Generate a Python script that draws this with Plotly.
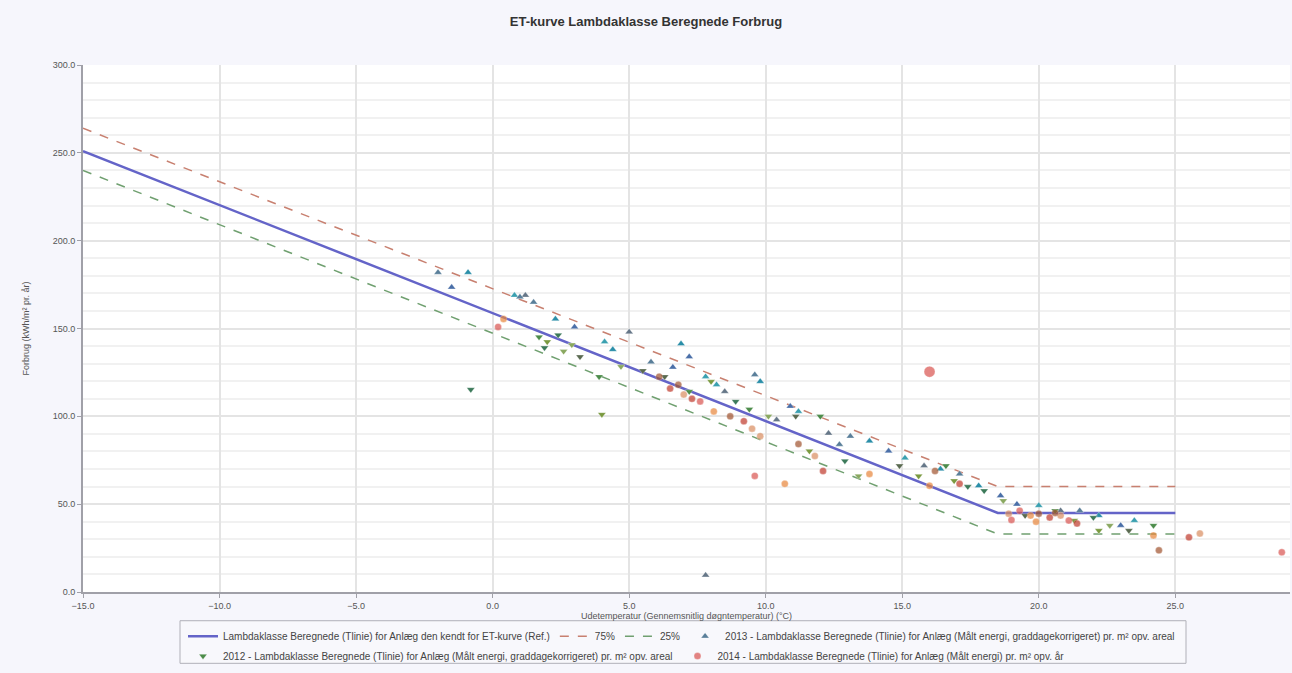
import plotly.graph_objects as go

# ---- data ----
line_x = [-15, 18.5, 25]
line_mid = [251, 45, 45]
line_upper = [264, 60, 60]
line_lower = [240, 33, 33]

x_2013 = [-2.0, -0.9, -1.5, 0.8, 1.2, 1.5, 2.3, 3.0, 4.1, 5.0, 5.8, 6.9, 7.2, 7.8, 8.5, 9.6, 9.8,
          10.9, 11.2, 12.3, 13.1, 13.8, 14.5, 15.1, 15.8, 17.1, 17.8, 18.6, 20.0, 20.8, 21.5, 22.2,
          23.0, 23.5, 7.8, 1.0, 4.4, 6.6, 8.2, 10.4, 12.7, 16.4, 19.2]
y_2013 = [181.9, 181.9, 173.5, 168.9, 168.9, 165.0, 155.4, 150.9, 142.4, 148.0, 131.0, 141.3, 133.9,
          122.6, 114.1, 123.7, 119.8, 105.7, 102.8, 90.4, 88.7, 85.9, 80.2, 76.3, 71.8, 67.2, 60.5,
          54.8, 49.2, 46.3, 46.3, 43.5, 37.9, 40.7, 9.6, 168.0, 138.0, 128.0, 118.0, 98.0, 84.0, 70.0, 50.0]

x_2012 = [1.7, 2.0, 2.4, 2.9, 3.2, 3.9, 4.0, -0.8, 4.7, 6.3, 7.2, 8.0, 8.9, 10.1, 11.1, 12.0, 11.6,
          12.9, 13.4, 14.9, 16.6, 16.9, 18.0, 18.7, 19.5, 20.6, 21.3, 22.0, 22.6, 23.3, 24.2, 22.2,
          1.9, 2.6, 5.5, 9.4, 15.6, 17.4]
y_2012 = [145.2, 142.4, 146.3, 140.7, 133.9, 122.6, 101.1, 115.3, 128.3, 122.6, 114.1, 119.8, 108.5,
          100.0, 100.0, 100.0, 80.2, 74.6, 66.1, 71.8, 71.8, 63.3, 57.6, 52.0, 43.5, 46.3, 40.7,
          42.4, 37.9, 35.0, 37.9, 35.0, 139.0, 137.0, 126.0, 104.0, 66.0, 60.0]

x_2014 = [0.2, 0.4, 6.1, 6.5, 7.0, 7.6, 8.1, 8.7, 9.2, 9.8, 9.6, 10.7, 11.2, 12.1, 11.8, 16.0, 16.0,
          16.2, 17.1, 18.9, 19.3, 19.7, 20.0, 20.4, 20.8, 21.1, 24.2, 24.4, 25.5, 25.9, 28.9, 13.8,
          6.8, 7.3, 9.5, 19.0, 19.9, 20.6, 21.4]
y_2014 = [150.9, 155.4, 122.6, 115.8, 112.4, 108.5, 102.8, 100.0, 97.2, 88.7, 66.1, 61.6, 84.2, 68.9,
          77.4, 125.4, 60.5, 68.9, 61.6, 44.6, 46.3, 43.5, 44.6, 42.4, 43.5, 40.7, 32.2, 23.7, 31.1,
          33.3, 22.6, 67.2, 118.0, 110.0, 93.0, 41.0, 40.0, 45.0, 39.0]

x_ticks = [-15, -10, -5, 0, 5, 10, 15, 20, 25]
y_ticks = [0, 50, 100, 150, 200, 250, 300]

# ---- styles ----
pal_2013 = ["#5a7f9a", "#2a8ea8", "#4a6fa8", "#3aa0b0", "#667788"]
pal_2012 = ["#4c8c4a", "#7a9a40", "#3c7a5a", "#8aa860", "#5a6a50"]
pal_2014 = ["#d9534f", "#e8853a", "#a0522d", "#c0392b", "#d98c5f"]

def cyc(p, n):
    return [p[i % len(p)] for i in range(n)]

FONT = "Liberation Sans, Arial, sans-serif"
W, H = 1292, 673
L, R, T, B = 83, 2, 65, 76
PW, PH = W - L - R, H - T - B

def px_x(px):
    return (px - L) / PW

def px_y(py):
    return (H - B - py) / PH

fig = go.Figure()
fig.add_trace(go.Scatter(x=line_x, y=line_mid, mode="lines",
                         line=dict(color="#6464c8", width=2.5), legend="legend",
                         name="Lambdaklasse Beregnede (Tlinie) for Anlæg den kendt for ET-kurve (Ref.)"))
fig.add_trace(go.Scatter(x=line_x, y=line_upper, mode="lines", legend="legend",
                         line=dict(color="#c88070", width=1.5, dash="dash"), name="75%"))
fig.add_trace(go.Scatter(x=line_x, y=line_lower, mode="lines", legend="legend",
                         line=dict(color="#70a070", width=1.5, dash="dash"), name="25%"))
fig.add_trace(go.Scatter(x=x_2013, y=y_2013, mode="markers", legend="legend",
                         marker=dict(symbol="triangle-up", size=7, color=cyc(pal_2013, len(x_2013)),
                                     line=dict(color="rgba(255,255,255,0.6)", width=0.5)),
                         name="2013 - Lambdaklasse Beregnede (Tlinie) for Anlæg (Målt energi, graddagekorrigeret) pr. m² opv. areal"))
fig.add_trace(go.Scatter(x=x_2012, y=y_2012, mode="markers", legend="legend2",
                         marker=dict(symbol="triangle-down", size=7, color=cyc(pal_2012, len(x_2012)),
                                     line=dict(color="rgba(255,255,255,0.6)", width=0.5)),
                         name="2012 - Lambdaklasse Beregnede (Tlinie) for Anlæg (Målt energi, graddagekorrigeret) pr. m² opv. areal"))
sizes_2014 = [7] * len(x_2014)
sizes_2014[15] = 11
fig.add_trace(go.Scatter(x=x_2014, y=y_2014, mode="markers", legend="legend2",
                         marker=dict(symbol="circle", size=sizes_2014, color=cyc(pal_2014, len(x_2014)),
                                     line=dict(color="rgba(255,255,255,0.6)", width=0.5)),
                         name="2014 - Lambdaklasse Beregnede (Tlinie) for Anlæg (Målt energi) pr. m² opv. år"))

leg_common = dict(orientation="h", xanchor="left", yanchor="top", bgcolor="rgba(0,0,0,0)",
                  borderwidth=0, font=dict(size=10, color="#444"), itemwidth=30)

fig.update_layout(
    width=W, height=H,
    margin=dict(l=L, r=R, t=T, b=B),
    paper_bgcolor="#f6f6fc", plot_bgcolor="#ffffff",
    font=dict(family=FONT, size=9, color="#555"),
    title=dict(text="<b>ET-kurve Lambdaklasse Beregnede Forbrug</b>", x=0.5, xanchor="center",
               y=1 - 21 / H, yanchor="middle",
               font=dict(family=FONT, size=13, color="#333")),
    xaxis=dict(range=[-15, 29.2], tickvals=x_ticks, tickformat=".1f",
               showgrid=True, gridcolor="#e4e4e4", gridwidth=1.5,
               showline=True, linecolor="#a0a0a8", linewidth=2,
               ticks="outside", ticklen=4, tickcolor="#a0a0a8",
               zeroline=False,
               title=dict(text="Udetemperatur (Gennemsnitlig døgntemperatur) (°C)", font=dict(size=9), standoff=2)),
    yaxis=dict(range=[0, 300], tickvals=y_ticks, tickformat=".1f",
               showgrid=True, gridcolor="#e4e4e4", gridwidth=1.5,
               minor=dict(dtick=10, showgrid=True, gridcolor="#f1f1f1"),
               showline=True, linecolor="#a0a0a8", linewidth=2,
               ticks="outside", ticklen=4, tickcolor="#a0a0a8",
               zeroline=False,
               title=dict(text="Forbrug (kWh/m² pr. år)", font=dict(size=9), standoff=22)),
    legend=dict(x=px_x(183), y=px_y(627), **leg_common),
    legend2=dict(x=px_x(183), y=px_y(647), **leg_common),
    shapes=[dict(type="rect", xref="paper", yref="paper", layer="below",
                 x0=px_x(180), x1=px_x(1186), y0=px_y(669), y1=px_y(626),
                 line=dict(color="#b0b0b8", width=1), fillcolor="#f8f8fc")],
    showlegend=True,
)

fig.write_html("out.html", config={"displayModeBar": False},
               post_script="document.body.style.margin='0';document.body.style.overflow='hidden';")
